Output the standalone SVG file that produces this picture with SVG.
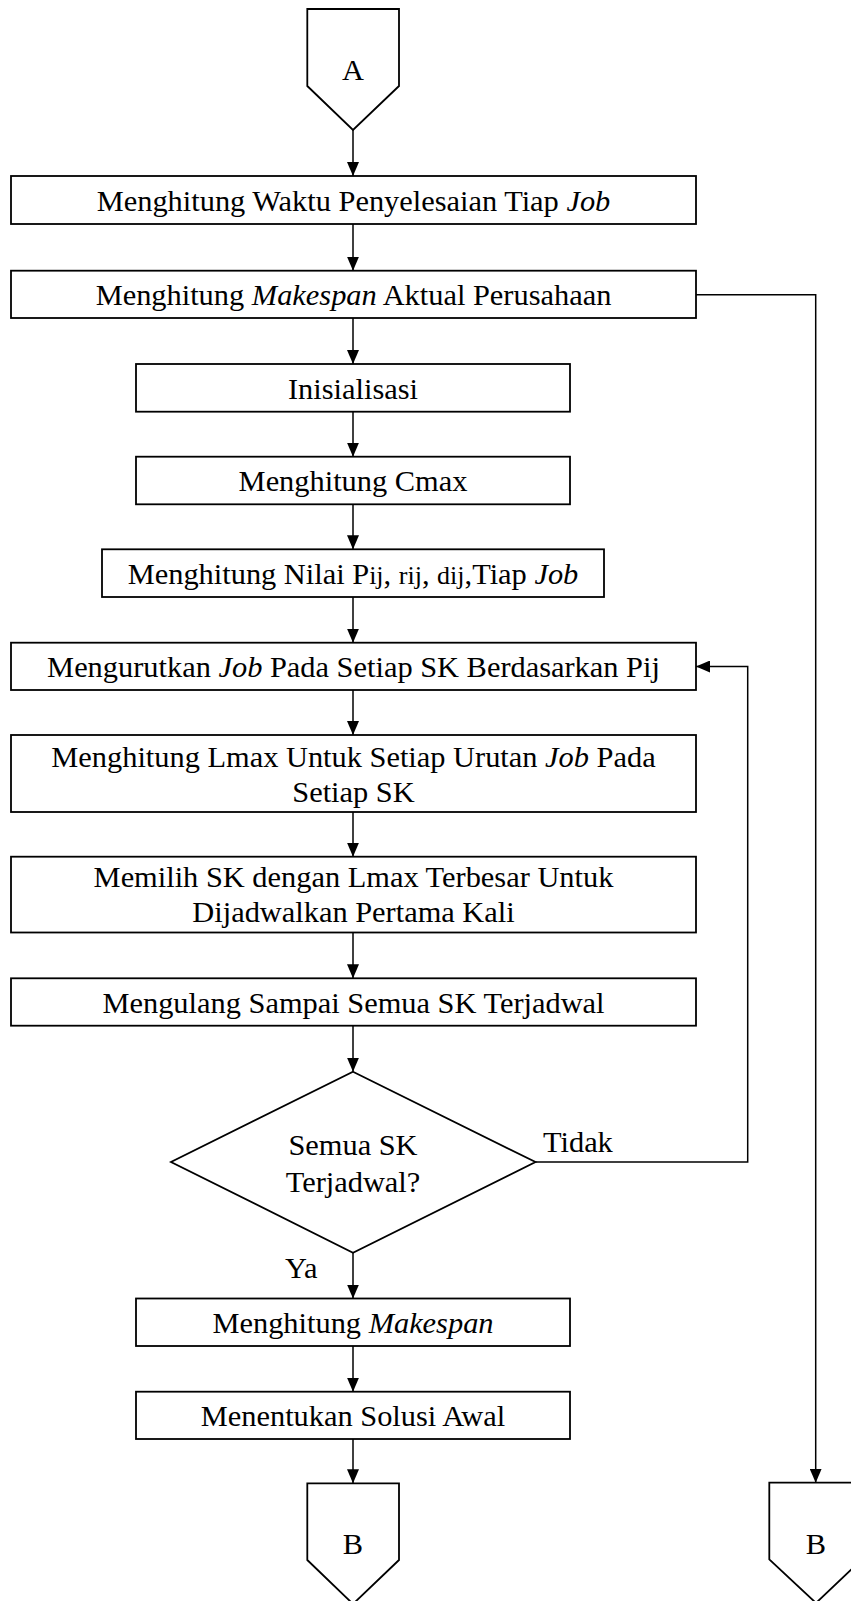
<svg xmlns="http://www.w3.org/2000/svg" width="851" height="1601" viewBox="0 0 851 1601">
  <style>
    .shape { fill: #ffffff; stroke: #000000; stroke-width: 1.8; }
    .link { fill: none; stroke: #000000; stroke-width: 1.5; }
    .lbl { font-family: "Liberation Serif", "Times New Roman", serif; font-size: 30.4px; fill: #000000; }
    .mid { text-anchor: middle; }
    .it { font-style: italic; }
    .sm { font-size: 26px; }
  </style>
  <defs>
    <marker id="arrow" markerUnits="userSpaceOnUse" markerWidth="14" markerHeight="12" refX="14" refY="6" orient="auto">
      <path d="M0,0 L14,6 L0,12 Z" fill="#000000"/>
    </marker>
  </defs>
  <rect x="0" y="0" width="851" height="1601" fill="#ffffff"/>

  <!-- connectors -->
  <g id="connectors">
    <path class="link" d="M353,130 V176" marker-end="url(#arrow)"/>
    <path class="link" d="M353,224 V270.7" marker-end="url(#arrow)"/>
    <path class="link" d="M353,318 V364" marker-end="url(#arrow)"/>
    <path class="link" d="M353,411.7 V456.7" marker-end="url(#arrow)"/>
    <path class="link" d="M353,504.3 V549.3" marker-end="url(#arrow)"/>
    <path class="link" d="M353,597 V642.7" marker-end="url(#arrow)"/>
    <path class="link" d="M353,690 V735" marker-end="url(#arrow)"/>
    <path class="link" d="M353,812 V856.7" marker-end="url(#arrow)"/>
    <path class="link" d="M353,932.5 V978.3" marker-end="url(#arrow)"/>
    <path class="link" d="M353,1025.7 V1071.7" marker-end="url(#arrow)"/>
    <path class="link" d="M353,1252.7 V1298.5" marker-end="url(#arrow)"/>
    <path class="link" d="M353,1346 V1391.7" marker-end="url(#arrow)"/>
    <path class="link" d="M353,1439 V1483.3" marker-end="url(#arrow)"/>
    <path class="link" d="M696,294.7 H815.7 V1482.7" marker-end="url(#arrow)"/>
    <path class="link" d="M535.5,1162 H747.7 V666.5 H696" marker-end="url(#arrow)"/>
    <text class="lbl" x="543" y="1151.7">Tidak</text>
    <text class="lbl" x="285" y="1278">Ya</text>
  </g>

  <!-- off-page connector A -->
  <g id="conn-a">
    <path class="shape" d="M307.3,9 H399 V86 L353,130 L307.3,86 Z"/>
    <text class="lbl mid" x="353" y="80">A</text>
  </g>

  <g id="n-waktu">
    <rect class="shape" x="11" y="176" width="685" height="48"/>
    <text class="lbl mid" x="353.5" y="211">Menghitung Waktu Penyelesaian Tiap <tspan class="it">Job</tspan></text>
  </g>

  <g id="n-makespan-aktual">
    <rect class="shape" x="11" y="270.7" width="685" height="47.3"/>
    <text class="lbl mid" x="353.5" y="305">Menghitung <tspan class="it">Makespan</tspan> Aktual Perusahaan</text>
  </g>

  <g id="n-inisialisasi">
    <rect class="shape" x="136" y="364" width="434" height="47.7"/>
    <text class="lbl mid" x="353" y="398.5">Inisialisasi</text>
  </g>

  <g id="n-cmax">
    <rect class="shape" x="136" y="456.7" width="434" height="47.6"/>
    <text class="lbl mid" x="353" y="491">Menghitung Cmax</text>
  </g>

  <g id="n-nilai">
    <rect class="shape" x="102" y="549.3" width="502" height="47.7"/>
    <text class="lbl mid" x="353" y="583.5">Menghitung Nilai P<tspan class="sm">ij</tspan>, <tspan class="sm">rij</tspan>, <tspan class="sm">dij</tspan>,Tiap <tspan class="it">Job</tspan></text>
  </g>

  <g id="n-urutkan">
    <rect class="shape" x="11" y="642.7" width="685" height="47.3"/>
    <text class="lbl mid" x="353.5" y="677">Mengurutkan <tspan class="it">Job</tspan> Pada Setiap SK Berdasarkan Pij</text>
  </g>

  <g id="n-lmax">
    <rect class="shape" x="11" y="735" width="685" height="77"/>
    <text class="lbl mid" x="353.5" y="766.7">Menghitung Lmax Untuk Setiap Urutan <tspan class="it">Job</tspan> Pada</text>
    <text class="lbl mid" x="353.5" y="801.7">Setiap SK</text>
  </g>

  <g id="n-memilih">
    <rect class="shape" x="11" y="856.7" width="685" height="75.8"/>
    <text class="lbl mid" x="353.5" y="886.7">Memilih SK dengan Lmax Terbesar Untuk</text>
    <text class="lbl mid" x="353.5" y="921.7">Dijadwalkan Pertama Kali</text>
  </g>

  <g id="n-mengulang">
    <rect class="shape" x="11" y="978.3" width="685" height="47.4"/>
    <text class="lbl mid" x="353.5" y="1012.5">Mengulang Sampai Semua SK Terjadwal</text>
  </g>

  <g id="n-decision">
    <path class="shape" d="M353,1071.7 L535.5,1162 L353,1252.7 L171,1162 Z"/>
    <text class="lbl mid" x="353" y="1155">Semua SK</text>
    <text class="lbl mid" x="353" y="1191.7">Terjadwal?</text>
  </g>

  <g id="n-makespan">
    <rect class="shape" x="136" y="1298.5" width="434" height="47.5"/>
    <text class="lbl mid" x="353" y="1333">Menghitung <tspan class="it">Makespan</tspan></text>
  </g>

  <g id="n-solusi">
    <rect class="shape" x="136" y="1391.7" width="434" height="47.3"/>
    <text class="lbl mid" x="353" y="1426">Menentukan Solusi Awal</text>
  </g>

  <!-- off-page connectors B -->
  <g id="conn-b1">
    <path class="shape" d="M307.3,1483.3 H399 V1560 L353,1604 L307.3,1560 Z"/>
    <text class="lbl mid" x="353" y="1554">B</text>
  </g>

  <g id="conn-b2">
    <path class="shape" d="M769.3,1482.7 H862 V1559.3 L816,1603 L769.3,1559.3 Z"/>
    <text class="lbl mid" x="816" y="1554">B</text>
  </g>
</svg>
